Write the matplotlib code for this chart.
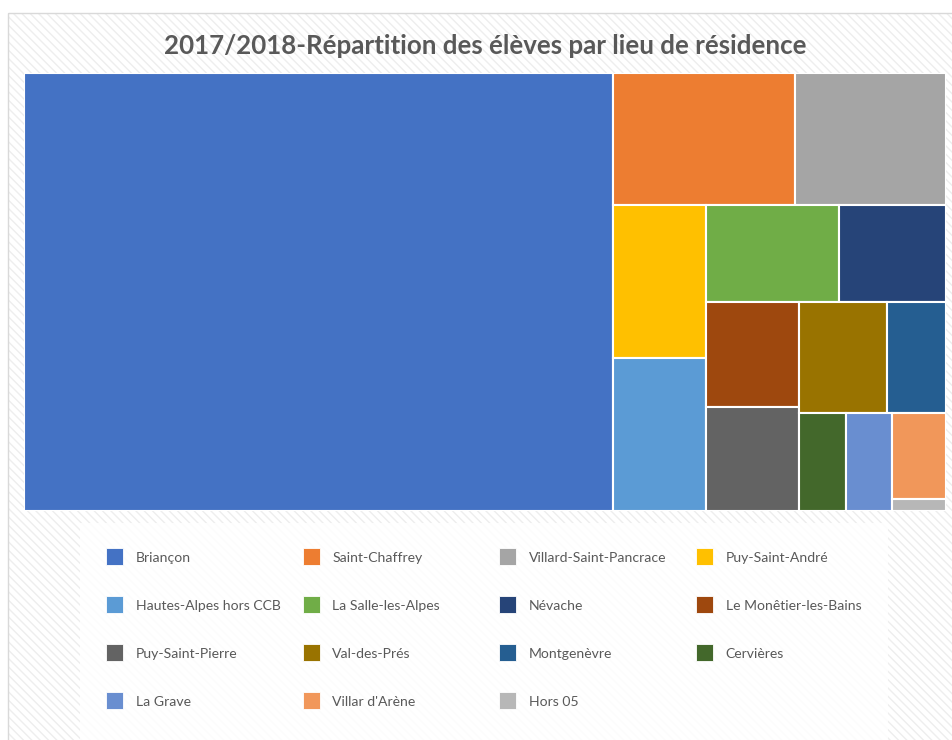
import matplotlib
matplotlib.use("Agg")
import matplotlib.pyplot as plt
from matplotlib.patches import Rectangle

# ---------------- data ----------------
title = "2017/2018-Répartition des élèves par lieu de résidence"
categories = ["Briançon", "Saint-Chaffrey", "Villard-Saint-Pancrace", "Puy-Saint-André",
              "Hautes-Alpes hors CCB", "La Salle-les-Alpes", "Névache", "Le Monêtier-les-Bains",
              "Puy-Saint-Pierre", "Val-des-Prés", "Montgenèvre", "Cervières",
              "La Grave", "Villar d'Arène", "Hors 05"]
values = [796, 74, 61, 44, 44, 40, 32, 30, 30, 30, 20, 14, 14, 14, 2]
colors = ["#4472C4", "#ED7D31", "#A5A5A5", "#FFC000", "#5B9BD5", "#70AD47", "#264478",
          "#9E480E", "#636363", "#997300", "#255E91", "#43682B", "#698ED0", "#F1975A", "#B7B7B7"]
# number of tiles placed in each successive strip of the treemap
groups = [1, 2, 2, 2, 2, 2, 1, 1, 1, 1]

FONT = ["Lato", "DejaVu Sans"]
TXT = "#595959"

W_PX, H_PX = 952, 740
fig = plt.figure(figsize=(W_PX / 100, H_PX / 100), dpi=100)
fig.patch.set_facecolor("white")

# background axes in pixel coordinates
bg = fig.add_axes([0, 0, 1, 1])
bg.set_xlim(0, W_PX)
bg.set_ylim(H_PX, 0)
bg.axis("off")

plt.rcParams["hatch.linewidth"] = 1.0
bg.add_patch(Rectangle((8, 13), 1000, 800, facecolor="white", edgecolor="#EEEEEE",
                       hatch="\\\\\\\\", linewidth=0, zorder=0))
bg.add_patch(Rectangle((8, 13), 1000, 800, facecolor="none", edgecolor="#D9D9D9",
                       linewidth=1.0, zorder=1))
# legend box
bg.add_patch(Rectangle((80, 523), 808, 230, facecolor="white", alpha=0.85,
                       edgecolor="none", zorder=2))

bg.text(485, 46, title, ha="center", va="center", fontsize=18.6, fontweight="bold",
        color=TXT, family=FONT, zorder=3)

# legend entries
for i, (cat, col) in enumerate(zip(categories, colors)):
    r, c = divmod(i, 4)
    sx = 106 + c * 196.7
    sy = 548 + r * 48
    bg.add_patch(Rectangle((sx, sy), 17, 17, facecolor=col, edgecolor="#FFFFFF",
                           linewidth=0.6, zorder=3))
    bg.text(sx + 29.5, sy + 9.5, cat, ha="left", va="center", fontsize=10.1,
            color=TXT, family=FONT, zorder=3)

# ---------------- treemap ----------------
PW, PH = 921.5, 438.0
ax = fig.add_axes([24 / W_PX, 1 - 511 / H_PX, PW / W_PX, PH / H_PX])
ax.set_xlim(0, PW)
ax.set_ylim(PH, 0)
ax.axis("off")


def layout(vals, grps, x, y, w, h):
    rects = []
    scale = w * h / sum(vals)
    i = 0
    for g in grps:
        chunk = vals[i:i + g]
        s = sum(chunk) * scale
        if w >= h:
            cw = s / h
            yy = y
            for v in chunk:
                hh = v * scale / cw
                rects.append((x, yy, cw, hh))
                yy += hh
            x += cw
            w -= cw
        else:
            rh = s / w
            xx = x
            for v in chunk:
                ww = v * scale / rh
                rects.append((xx, y, ww, rh))
                xx += ww
            y += rh
            h -= rh
        i += g
    return rects


for (x, y, w, h), col in zip(layout(values, groups, 0, 0, PW, PH), colors):
    ax.add_patch(Rectangle((x, y), w, h, facecolor=col, edgecolor="white", linewidth=1.5))

fig.savefig("out.png", dpi=100)
